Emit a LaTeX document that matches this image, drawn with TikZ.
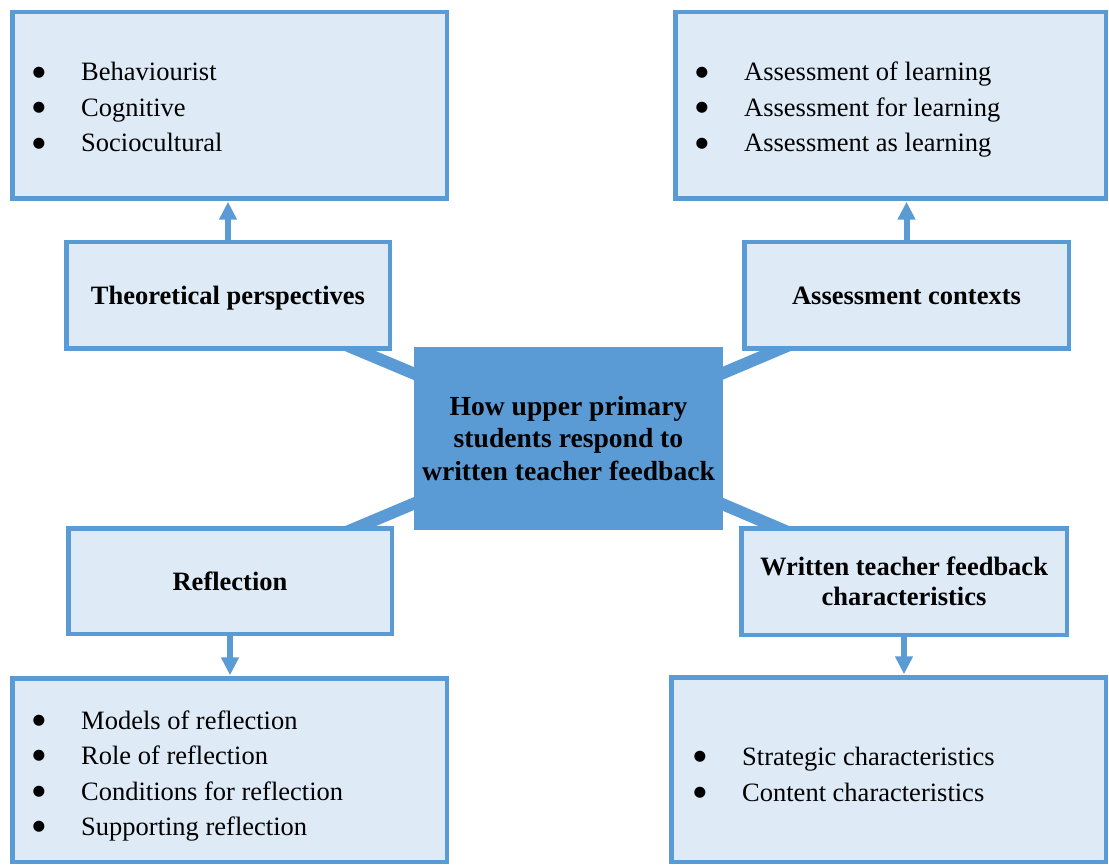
\documentclass[tikz,border=0pt]{standalone}
\usepackage{fontspec}
\setmainfont{Liberation Serif}
\newfontfamily\markfont{DejaVu Sans}
\usetikzlibrary{arrows.meta,backgrounds}
\definecolor{accent}{HTML}{5B9BD5}
\definecolor{pale}{HTML}{DEEBF7}
% bullet mark followed by the tab to the item text
\newcommand{\listmark}{\makebox[48pt][l]{\hspace{-0.6pt}{\markfont\fontsize{14.5}{14.5}\selectfont\raisebox{4.8pt}{●}}}}
\begin{document}
\begin{tikzpicture}[x=1pt,y=-1pt,
  box/.style={rectangle, draw=accent, fill=pale, line width=4.5pt, inner sep=0pt, outer sep=0pt},
  head/.style={box, font=\fontsize{26.5}{30.5}\selectfont\bfseries, align=center},
  hub/.style={rectangle, fill=accent, inner sep=0pt, outer sep=0pt,
    font=\fontsize{27.6}{32.2}\selectfont\bfseries, align=center,
    minimum width=309pt, minimum height=183pt},
  item/.style={anchor=base west, inner sep=0pt, font=\fontsize{26.5}{35.5}\selectfont},
  band/.style={draw=accent, line width=12pt},
  arr/.style={draw=accent, line width=6pt, -{Triangle[width=17pt,length=18pt]}}
]
\useasboundingbox (0,0) rectangle (1109,866);

% list boxes
\node[box, minimum width=434.5pt, minimum height=186.5pt] (theolist) at (229.5,105.5) {};
\node[box, minimum width=430.5pt, minimum height=186.5pt] (assesslist) at (890.5,105.5) {};
\node[box, minimum width=434.5pt, minimum height=183.5pt] (refllist) at (229.5,770) {};
\node[box, minimum width=434.5pt, minimum height=184.5pt] (featlist) at (888.5,769.5) {};

% heading boxes
\node[head, text depth=0pt, minimum width=323.5pt, minimum height=106.5pt] (theo) at (228,295.5) {Theoretical perspectives};
\node[head, minimum width=324.5pt, minimum height=106.5pt] (assess) at (906.5,295.5) {Assessment contexts};
\node[head, minimum width=323.5pt, minimum height=105.5pt] (refl) at (230,581) {Reflection};
\node[head, minimum width=325.5pt, minimum height=106.5pt] (feat) at (904,581.5) {Written teacher feedback\\characteristics};

% central topic
\node[hub] (hub) at (568.5,438.5) {How upper primary\\students respond to\\written teacher feedback};

% bullet lists
\node[item] (t1) at (33,81) {\listmark Behaviourist};
\node[item] (t2) at (33,116.5) {\listmark Cognitive};
\node[item] (t3) at (33,152) {\listmark Sociocultural};

\node[item] (a1) at (696,81) {\listmark Assessment of learning};
\node[item] (a2) at (696,116.5) {\listmark Assessment for learning};
\node[item] (a3) at (696,152) {\listmark Assessment as learning};

\node[item] (r1) at (33,729) {\listmark Models of reflection};
\node[item] (r2) at (33,764.5) {\listmark Role of reflection};
\node[item] (r3) at (33,800) {\listmark Conditions for reflection};
\node[item] (r4) at (33,835.5) {\listmark Supporting reflection};

\node[item] (f1) at (694,765) {\listmark Strategic characteristics};
\node[item] (f2) at (694,801) {\listmark Content characteristics};

% arrows from headings to their lists
\draw[arr] (theo.north) -- ([yshift=-3pt]theo.north |- theolist.south);
\draw[arr] (assess.north) -- ([yshift=-3pt]assess.north |- assesslist.south);
\draw[arr] (refl.south) -- ([yshift=3pt]refl.south |- refllist.north);
\draw[arr] (feat.south) -- ([yshift=3pt]feat.south |- featlist.north);

% spokes joining the headings to the central topic
\begin{scope}[on background layer]
  \fill[white] (0,0) rectangle (1109,866);
  \draw[band] (theo.center) -- (hub.center);
  \draw[band] (assess.center) -- (hub.center);
  \draw[band] (refl.center) -- (hub.center);
  \draw[band] (feat.center) -- (hub.center);
\end{scope}
\end{tikzpicture}
\end{document}
